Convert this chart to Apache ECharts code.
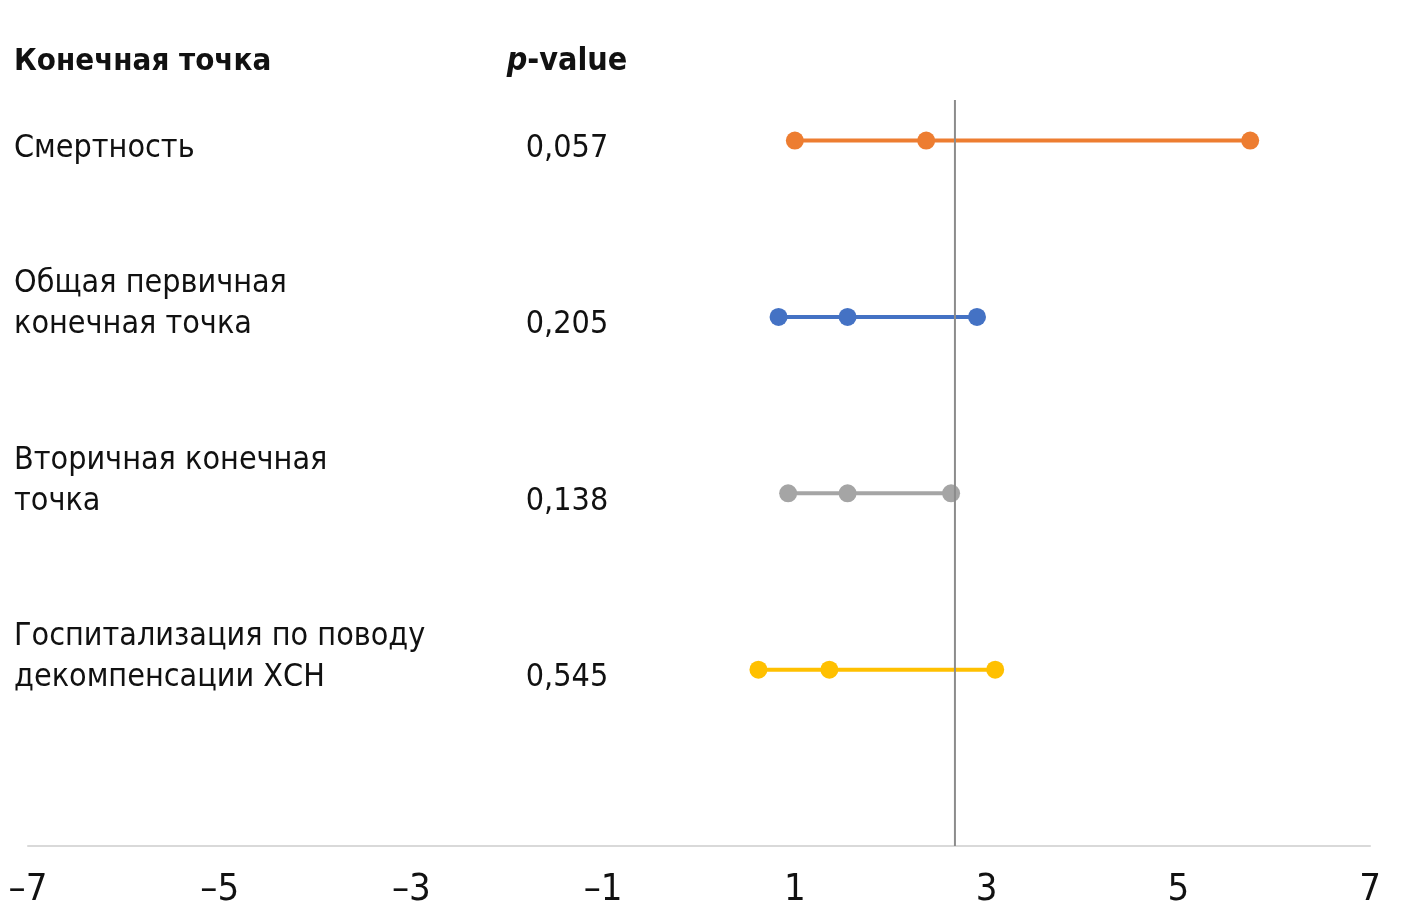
<!DOCTYPE html>
<html><head><meta charset="utf-8">
<script src="https://cdn.jsdelivr.net/npm/echarts@6/dist/echarts.min.js"></script>
<style>html,body{margin:0;padding:0;background:#fff}#c{width:1412px;height:921px}</style>
</head><body><div id="c"></div>
<script>
const headerLabel = 'Конечная точка';
const headerP = 'value';
const categories = ['Смертность', 'Общая первичная\nконечная точка', 'Вторичная конечная\nточка', 'Госпитализация по поводу\nдекомпенсации ХСН'];
const pValues = ['0,057', '0,205', '0,138', '0,545'];
const rowPos = [4, 3, 2, 1];
const lowValues = [1.00, 0.83, 0.93, 0.62];
const midValues = [2.37, 1.55, 1.55, 1.36];
const highValues = [5.75, 2.90, 2.63, 3.09];
const refValue = 2.67;
const colors = ['#ED7D31', '#4472C4', '#A5A5A5', '#FFC000'];
const xTicks = [-7, -5, -3, -1, 1, 3, 5, 7];
const yMax = 4.23;

const FONT = '"Liberation Sans Narrow", "DejaVu Sans Condensed", "Roboto", sans-serif';
const chart = echarts.init(document.getElementById('c'));

const series = categories.map((c, i) => ({
  type: 'line',
  data: [[lowValues[i], rowPos[i]], [midValues[i], rowPos[i]], [highValues[i], rowPos[i]]],
  symbol: 'circle', symbolSize: 18,
  lineStyle: { color: colors[i], width: 4 },
  itemStyle: { color: colors[i] },
  silent: true, animation: false, z: 3
}));
series.push({
  type: 'line', data: [[refValue, 0], [refValue, yMax]], symbol: 'none',
  lineStyle: { color: '#8c8c8c', width: 2 }, silent: true, animation: false, z: 4
});

chart.setOption({
  animation: false,
  grid: { left: 28, right: 42, top: 100, bottom: 75 },
  xAxis: {
    type: 'value', min: -7, max: 7, interval: 2,
    splitLine: { show: false }, axisTick: { show: false },
    axisLine: { show: true, lineStyle: { color: '#d9d9d9', width: 2 } },
    axisLabel: {
      margin: 25, fontSize: 38, color: '#111', fontFamily: FONT,
      formatter: v => xTicks.includes(v) ? String(v).replace('-', '–') : ''
    }
  },
  yAxis: { type: 'value', min: 0, max: yMax, show: false },
  series
});

const textStyle = { fontFamily: FONT, fontSize: 32, fill: '#111', lineHeight: 41 };
const graphics = [
  { type: 'text', x: 14, y: 62, style: { text: headerLabel, verticalAlign: 'middle', fontFamily: FONT, fontSize: 31, fontWeight: 'bold', fill: '#111' } },
  { type: 'text', x: 567, y: 62, style: { text: '{i|p}{b|-' + headerP + '}', align: 'center', verticalAlign: 'middle',
    rich: { i: { fontFamily: FONT, fontSize: 32, fontWeight: 'bold', fontStyle: 'italic', fill: '#111' },
            b: { fontFamily: FONT, fontSize: 32, fontWeight: 'bold', fill: '#111' } } } }
];
categories.forEach((c, i) => {
  const py = chart.convertToPixel({ gridIndex: 0 }, [0, rowPos[i]])[1];
  const lines = c.split('\n').length;
  const lastY = py + 8;
  graphics.push({ type: 'text', x: 14, y: lastY - (lines - 1) * 41 / 2, style: Object.assign({ text: c, verticalAlign: 'middle', align: 'left' }, textStyle) });
  graphics.push({ type: 'text', x: 567, y: lastY, style: Object.assign({ text: pValues[i], verticalAlign: 'middle', align: 'center' }, textStyle) });
});
chart.setOption({ graphic: graphics });
</script></body></html>
